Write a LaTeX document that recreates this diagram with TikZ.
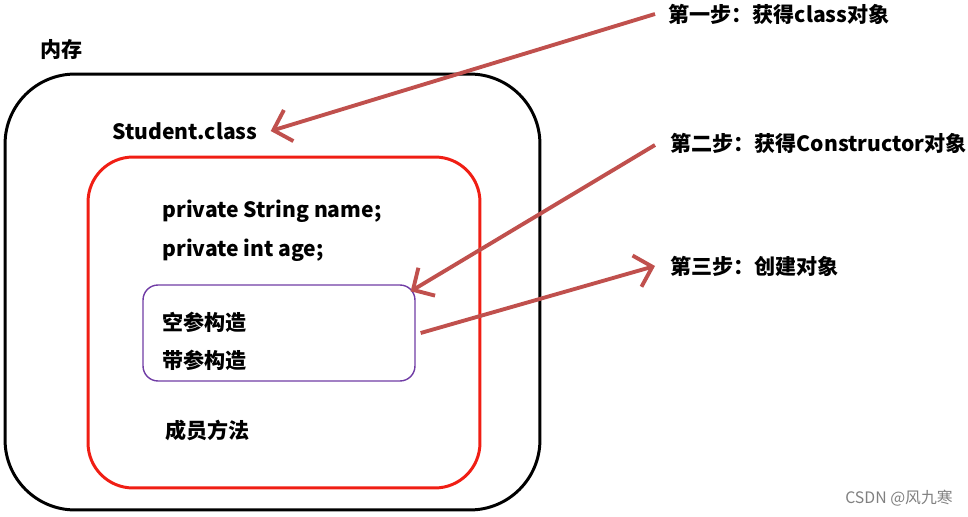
\documentclass[tikz,border=0pt]{standalone}
\usepackage{fontspec}
\setmainfont{Noto Sans CJK SC}
\usepackage{xcolor}
\usepackage{tikz}
\usetikzlibrary{arrows.meta,positioning,calc}

\definecolor{arrred}{RGB}{192,80,77}
\definecolor{boxred}{RGB}{240,30,20}
\definecolor{boxpurple}{RGB}{112,60,165}

\begin{document}
\begin{tikzpicture}[x=0.02cm, y=-0.02cm,
  txt/.style={anchor=west, inner sep=0pt, font=\bfseries\fontsize{12}{14}\selectfont},
  arr/.style={-{Straight Barb[length=3.2mm, width=6.5mm]}, line width=2.2pt, arrred},
  frame/.style={draw, line width=1.7pt, inner sep=0pt}
]
\useasboundingbox (0,0) rectangle (968,517);

% memory area
\node[txt] (memlabel) at (40,50) {内存};
\node[frame, rounded corners=1.4cm, minimum width=10.7cm, minimum height=8.72cm] (mem) at (272.5,292) {};
\node[txt] (student) at (112,131) {Student.class};

% class content
\node[frame, boxred, rounded corners=0.9cm, minimum width=7.84cm, minimum height=6.62cm] (cls) at (284,322.5) {};
\node[txt] (name) at (162,211) {private String name;};
\node[txt] (age) at (162,250) {private int age;};
\node[draw=boxpurple, line width=0.8pt, inner sep=0pt, rounded corners=0.3cm, minimum width=5.44cm, minimum height=1.92cm] (ctor) at (279,333) {};
\node[txt] (noarg) at (162,322) {空参构造};
\node[txt] (witharg) at (162,360) {带参构造};
\node[txt] (methods) at (165,430) {成员方法};

% steps
\node[txt] (step1) at (668,14) {第一步：获得class对象};
\node[txt] (step2) at (670,143) {第二步：获得Constructor对象};
\node[txt] (step3) at (670,266) {第三步：创建对象};

\draw[arr] ([xshift=-0.26cm]step1.west) -- ([xshift=0.26cm]student.east);
\draw[arr] ([xshift=-0.3cm,yshift=-0.04cm]step2.west) -- ([xshift=-0.1cm,yshift=-0.14cm]ctor.north east);
\draw[arr] ([xshift=0.1cm]ctor.east) -- ([xshift=-0.3cm]step3.west);

\node[anchor=east, inner sep=0pt, text=gray, font=\fontsize{9}{11}\selectfont] (mark) at (953,498) {CSDN @风九寒};
\end{tikzpicture}
\end{document}
